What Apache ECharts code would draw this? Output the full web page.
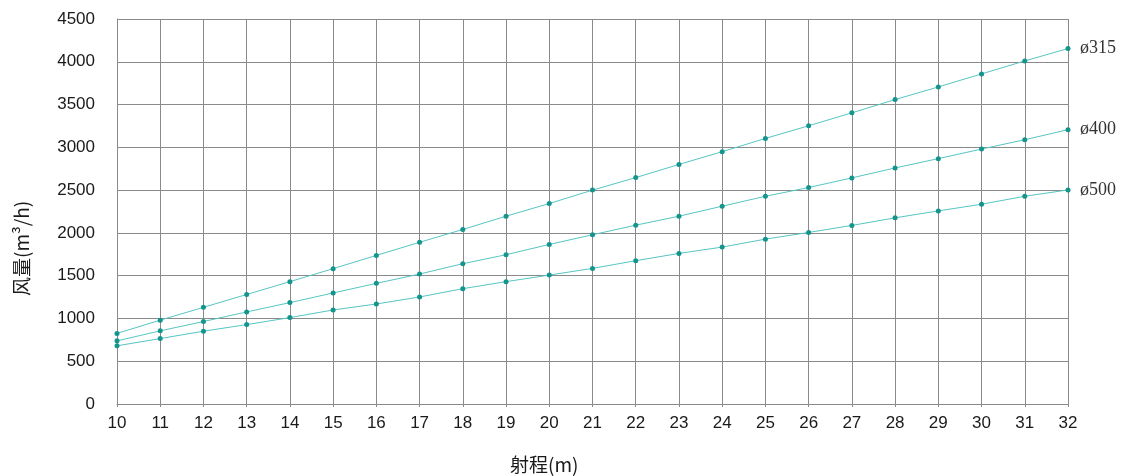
<!DOCTYPE html>
<html>
<head>
<meta charset="utf-8">
<script src="https://cdn.jsdelivr.net/npm/echarts@6/dist/echarts.min.js"></script>
<style>html,body{margin:0;padding:0;background:#fff}#c{width:1128px;height:476px}</style>
</head>
<body>
<div id="c"></div>
<script>
const ranges = [10,11,12,13,14,15,16,17,18,19,20,21,22,23,24,25,26,27,28,29,30,31,32];
const seriesNames = ['ø315','ø400','ø500'];
const d315 = [825,980,1130,1280,1430,1582,1737,1890,2040,2195,2343,2500,2646,2800,2949,3104,3252,3403,3558,3706,3858,4010,4155];
const d400 = [738,855,964,1076,1185,1298,1410,1519,1640,1745,1865,1978,2090,2195,2312,2428,2530,2643,2759,2868,2980,3089,3206];
const d500 = [680,765,851,928,1010,1099,1169,1251,1348,1430,1507,1585,1675,1760,1834,1927,2005,2087,2176,2257,2335,2428,2502];
const yTicks = [0,500,1000,1500,2000,2500,3000,3500,4000,4500];
const xName = '射程(m)';
const yName = '风量(m³/h)';

const allData = [d315, d400, d500];
const chart = echarts.init(document.getElementById('c'));
const font = '"Liberation Sans", Arial, sans-serif';
chart.setOption({
  animation: false,
  backgroundColor: '#fff',
  grid: {left: 117, right: 60, top: 19, bottom: 72, containLabel: false},
  xAxis: {
    type: 'value', min: ranges[0], max: ranges[ranges.length-1], interval: 1,
    axisLine: {show: true, lineStyle: {color: '#8a8a8a', width: 1}},
    axisTick: {show: true, length: 3, lineStyle: {color: '#8a8a8a'}},
    splitLine: {show: true, lineStyle: {color: '#8a8a8a', width: 1}},
    axisLabel: {color: '#1a1a1a', fontSize: 17, fontFamily: font, margin: 11, formatter: v => String(v)}
  },
  yAxis: {
    type: 'value', min: yTicks[0], max: yTicks[yTicks.length-1], interval: 500,
    axisLine: {show: true, lineStyle: {color: '#8a8a8a', width: 1}},
    axisTick: {show: false},
    splitLine: {show: true, lineStyle: {color: '#8a8a8a', width: 1}},
    axisLabel: {color: '#1a1a1a', fontSize: 17, fontFamily: font, margin: 22, formatter: v => String(v)}
  },
  graphic: [
    {type: 'text', left: 510, top: 455, style: {text: xName, fontSize: 19, fontFamily: '"Noto Sans CJK SC", sans-serif', fill: '#1a1a1a'}},
    {type: 'text', x: 12, y: 296, rotation: Math.PI/2, style: {text: yName, fontSize: 19, fontFamily: '"Noto Sans CJK SC", sans-serif', fill: '#1a1a1a'}}
  ],
  series: seriesNames.map((n, i) => ({
    name: n, type: 'line',
    data: ranges.map((x, j) => [x, allData[i][j]]),
    symbol: 'circle', symbolSize: 5,
    lineStyle: {color: '#56c6c2', width: 1},
    itemStyle: {color: '#14948c'},
    endLabel: {show: true, formatter: '{a}', distance: 12, color: '#333', fontSize: 18, fontFamily: '"Liberation Serif", serif'}
  }))
});
</script>
</body>
</html>
